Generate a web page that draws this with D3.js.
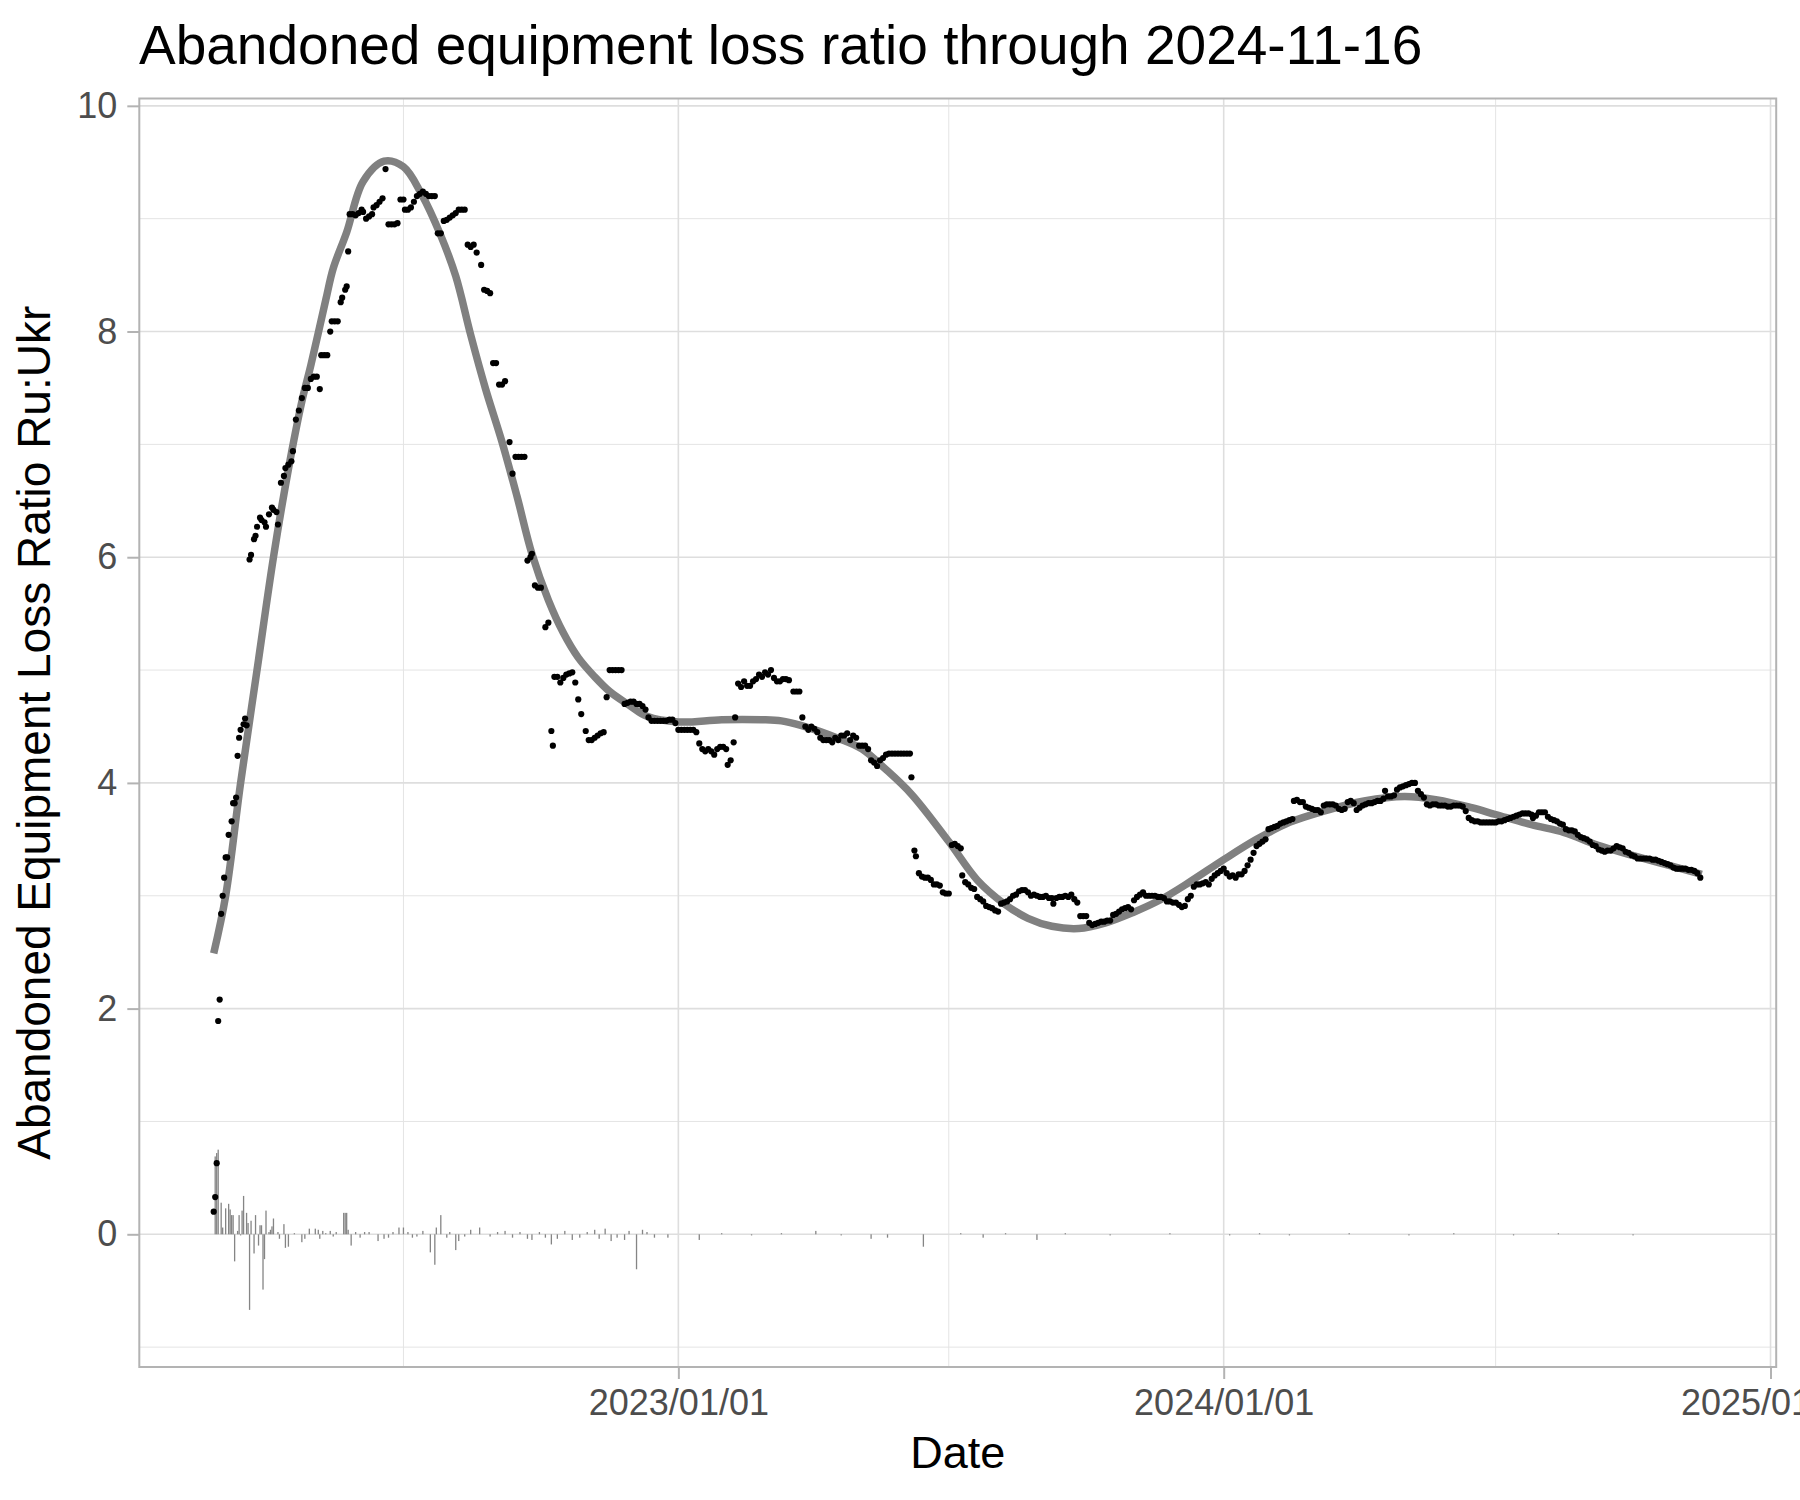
<!DOCTYPE html>
<html>
<head>
<meta charset="utf-8">
<script src="https://cdn.jsdelivr.net/npm/d3@7"></script>
<style>
body { margin: 0; background: #fff; }
text { font-family: "Liberation Sans", Arial, Helvetica, sans-serif; }
</style>
</head>
<body>
<svg id="svg1" width="1800" height="1500"></svg>
<script>
var titleText = "Abandoned equipment loss ratio through 2024-11-16";
var xTitle = "Date";
var yTitle = "Abandoned Equipment Loss Ratio Ru:Ukr";

var firstDay = "2022-02-24";
var lastDay = "2024-11-16";

// ratio Ru:Ukr, [days after firstDay, value]
var ratioPoints = [
 [0,0.20],[1,0.33],[2,0.63],[3,1.89],[4,2.08],[5,2.84],[6,3.00],[7,3.16],[8,3.34],[9,3.34],[10,3.54],[12,3.66],
 [13,3.82],[14,3.82],[15,3.87],[16,4.24],[17,4.40],[18,4.47],[20,4.52],[21,4.57],[22,4.51],[24,5.98],[25,6.02],
 [27,6.16],[28,6.19],[29,6.27],[31,6.35],[32,6.33],[34,6.31],[35,6.27],[37,6.38],[39,6.44],[40,6.42],[42,6.40],
 [43,6.29],[45,6.66],[47,6.72],[48,6.79],[50,6.82],[52,6.85],[53,6.94],[55,7.22],[57,7.30],[59,7.41],[61,7.50],
 [63,7.50],[65,7.58],[67,7.60],[69,7.60],[71,7.49],[72,7.79],[74,7.79],[76,7.79],[78,8.00],[79,8.09],[81,8.09],
 [83,8.09],[85,8.26],[86,8.30],[88,8.37],[89,8.40],[90,8.71],[91,9.04],[93,9.04],[95,9.03],[97,9.05],[99,9.08],
 [100,9.06],[102,9.00],[104,9.02],[106,9.04],[107,9.10],[109,9.12],[111,9.15],[113,9.18],[115,9.44],[117,8.95],
 [119,8.95],[121,8.95],[123,8.96],[125,9.17],[127,9.17],[128,9.08],[130,9.08],[132,9.10],[134,9.15],[136,9.20],
 [138,9.22],[140,9.24],[142,9.22],[144,9.20],[146,9.20],[148,9.20],[150,8.87],[152,8.87],[154,8.98],[156,8.99],
 [158,9.01],[160,9.03],[162,9.05],[164,9.08],[166,9.08],[168,9.08],[170,8.77],[172,8.75],[174,8.77],[176,8.70],
 [179,8.59],[181,8.37],[183,8.36],[185,8.34],[187,7.72],[189,7.72],[191,7.53],[193,7.53],[195,7.56],[198,7.02],
 [200,6.74],[202,6.89],[204,6.89],[206,6.89],[208,6.89],[210,5.97],[212,6.00],[213,6.03],[215,5.75],[217,5.73],
 [219,5.73],[222,5.38],[224,5.42],[226,4.46],[227,4.33],[228,4.94],[230,4.94],[232,4.89],[234,4.93],[236,4.96],
 [238,4.97],[240,4.98],[242,4.89],[244,4.74],[246,4.61],[249,4.46],[251,4.38],[253,4.38],[255,4.40],[257,4.42],
 [259,4.44],[261,4.45],[263,4.76],[265,5.00],[267,5.00],[269,5.00],[271,5.00],[273,5.00],[275,4.70],[277,4.71],
 [279,4.72],[281,4.72],[283,4.70],[285,4.70],[287,4.68],[289,4.65],[291,4.58],[293,4.55],[295,4.55],[297,4.55],
 [299,4.55],[301,4.55],[303,4.55],[305,4.56],[307,4.56],[309,4.53],[311,4.47],[313,4.47],[315,4.47],[317,4.47],
 [319,4.47],[321,4.47],[323,4.45],[325,4.35],[327,4.30],[329,4.28],[331,4.30],[333,4.28],[335,4.25],[337,4.30],
 [339,4.32],[341,4.32],[343,4.30],[344,4.16],[346,4.20],[348,4.36],[349,4.58],[351,4.88],[353,4.85],[355,4.90],
 [357,4.86],[359,4.86],[361,4.90],[363,4.92],[365,4.96],[367,4.94],[369,4.98],[371,4.96],[373,5.00],[375,4.93],
 [377,4.90],[379,4.90],[381,4.92],[383,4.92],[385,4.91],[388,4.81],[390,4.81],[392,4.81],[394,4.58],[396,4.50],
 [398,4.47],[400,4.50],[402,4.48],[404,4.45],[406,4.40],[408,4.38],[410,4.38],[412,4.38],[414,4.36],[416,4.40],
 [418,4.38],[420,4.42],[422,4.42],[424,4.44],[426,4.38],[428,4.42],[430,4.40],[432,4.33],[434,4.33],[436,4.33],
 [438,4.30],[440,4.20],[442,4.18],[444,4.15],[446,4.20],[448,4.22],[450,4.25],[452,4.26],[454,4.26],[456,4.26],
 [458,4.26],[460,4.26],[462,4.26],[464,4.26],[466,4.26],[467,4.05],[469,3.40],[470,3.35],[472,3.20],[474,3.17],
 [476,3.16],[478,3.16],[480,3.14],[482,3.10],[484,3.10],[486,3.09],[488,3.03],[490,3.02],[492,3.02],[494,3.45],
 [496,3.46],[498,3.44],[500,3.42],[501,3.18],[503,3.12],[505,3.10],[507,3.07],[509,3.06],[511,2.99],[513,2.97],
 [515,2.95],[517,2.91],[519,2.90],[521,2.89],[523,2.87],[525,2.86],[527,2.93],[529,2.94],[531,2.95],[533,2.97],
 [535,3.00],[537,3.01],[539,3.04],[541,3.05],[543,3.05],[545,3.03],[547,3.00],[549,3.01],[551,3.00],[553,2.99],
 [555,2.99],[557,3.00],[559,2.98],[561,2.98],[562,2.93],[564,2.98],[566,2.99],[568,2.99],[570,3.00],[572,2.99],
 [574,3.01],[576,2.97],[578,2.94],[580,2.82],[582,2.82],[584,2.82],[586,2.76],[588,2.74],[590,2.75],[592,2.76],
 [594,2.77],[596,2.77],[598,2.78],[600,2.78],[602,2.83],[604,2.84],[606,2.86],[608,2.88],[610,2.89],[612,2.90],
 [614,2.88],[616,2.96],[618,2.99],[620,3.01],[622,3.03],[624,3.00],[626,3.00],[628,3.00],[630,3.00],[632,2.99],
 [634,2.99],[636,2.98],[638,2.95],[640,2.95],[642,2.94],[644,2.94],[646,2.92],[648,2.90],[650,2.91],[652,2.97],
 [654,3.00],[656,3.08],[658,3.10],[660,3.10],[662,3.11],[664,3.12],[666,3.10],[668,3.15],[670,3.18],[672,3.20],
 [674,3.22],[676,3.24],[678,3.20],[680,3.17],[682,3.18],[684,3.16],[686,3.19],[688,3.19],[690,3.22],[692,3.27],
 [694,3.32],[696,3.38],[698,3.44],[700,3.46],[702,3.48],[704,3.50],[706,3.59],[708,3.60],[710,3.61],[712,3.62],
 [714,3.64],[716,3.65],[718,3.66],[720,3.67],[722,3.68],[723,3.84],[725,3.85],[727,3.83],[729,3.83],[731,3.79],
 [733,3.78],[735,3.77],[737,3.76],[739,3.76],[741,3.74],[743,3.80],[745,3.81],[747,3.81],[749,3.81],[751,3.80],
 [753,3.77],[755,3.76],[757,3.77],[759,3.83],[761,3.84],[763,3.82],[765,3.76],[767,3.78],[769,3.80],[771,3.81],
 [773,3.82],[775,3.82],[777,3.83],[779,3.84],[781,3.84],[783,3.86],[784,3.93],[786,3.88],[788,3.88],[790,3.89],
 [792,3.94],[794,3.96],[796,3.97],[798,3.98],[800,3.99],[802,4.00],[804,4.00],[806,3.93],[808,3.90],[810,3.87],
 [812,3.81],[814,3.80],[816,3.81],[818,3.81],[820,3.80],[822,3.80],[824,3.80],[826,3.79],[828,3.79],[830,3.80],
 [832,3.80],[834,3.80],[836,3.79],[838,3.75],[840,3.69],[842,3.67],[844,3.66],[846,3.66],[848,3.65],[850,3.65],
 [852,3.65],[854,3.65],[856,3.65],[858,3.65],[860,3.66],[862,3.66],[864,3.67],[866,3.68],[868,3.69],[870,3.70],
 [872,3.71],[874,3.72],[876,3.73],[878,3.73],[880,3.73],[882,3.72],[883,3.69],[885,3.71],[887,3.74],[889,3.74],
 [891,3.74],[893,3.70],[895,3.68],[897,3.67],[899,3.66],[901,3.64],[903,3.63],[905,3.59],[907,3.58],[909,3.58],
 [911,3.57],[913,3.54],[915,3.52],[917,3.51],[919,3.50],[921,3.48],[923,3.45],[925,3.44],[927,3.41],[929,3.40],
 [931,3.39],[933,3.40],[935,3.40],[937,3.42],[939,3.44],[941,3.43],[943,3.42],[945,3.39],[947,3.38],[949,3.36],
 [951,3.35],[953,3.33],[955,3.33],[957,3.33],[959,3.33],[961,3.33],[963,3.32],[965,3.32],[967,3.31],[969,3.30],
 [971,3.29],[973,3.28],[975,3.27],[977,3.25],[979,3.24],[981,3.24],[983,3.24],[985,3.24],[987,3.23],[989,3.23],
 [991,3.22],[993,3.20],[995,3.16]
];

// fitted trend, [days after firstDay, value]
var smoothPoints = [
 [0,2.49],[8,3.00],[18,4.00],[29,5.00],[40,6.00],[50,6.78],[59,7.38],[65,7.70],[75,8.28],[80,8.56],[89,8.88],
 [100,9.33],[114,9.51],[127,9.46],[139,9.22],[152,8.85],[162,8.49],[172,7.97],[182,7.49],[193,7.02],[203,6.54],
 [213,6.03],[224,5.62],[234,5.33],[244,5.11],[255,4.94],[265,4.81],[278,4.69],[290,4.59],[311,4.54],[340,4.56],
 [367,4.56],[380,4.55],[393,4.51],[419,4.39],[434,4.30],[449,4.13],[467,3.90],[492,3.48],[511,3.14],[529,2.93],
 [545,2.80],[561,2.73],[579,2.71],[597,2.76],[615,2.85],[633,2.96],[653,3.12],[676,3.32],[698,3.50],[720,3.65],
 [743,3.75],[770,3.84],[797,3.88],[819,3.85],[842,3.78],[858,3.72],[882,3.63],[904,3.56],[926,3.45],[949,3.36],
 [971,3.28],[996,3.19]
];

// daily change, [days after firstDay, value]
var changeBars = [
 [1,0.69],[2,0.72],[3,0.75],[5,0.28],[6,0.06],[8,0.23],[10,0.27],[11,0.22],[12,0.17],[13,0.17],[14,-0.24],
 [16,0.03],[17,0.17],[18,-0.01],[19,0.21],[20,0.34],[22,0.19],[23,0.10],[24,-0.67],[25,0.12],[27,-0.17],
 [28,0.17],[30,-0.10],[31,0.08],[32,0.08],[33,-0.49],[34,-0.22],[35,0.21],[37,0.02],[38,0.04],[39,0.07],
 [40,0.14],[43,0.02],[44,-0.04],[47,0.09],[48,-0.12],[50,-0.11],[54,0.01],[59,-0.07],[61,-0.04],[64,0.05],
 [68,0.05],[70,0.04],[71,-0.04],[73,0.03],[75,0.01],[78,0.03],[80,-0.02],[82,0.02],[87,0.19],[88,0.19],
 [89,0.19],[90,0.04],[92,-0.10],[95,0.02],[98,-0.03],[101,0.02],[104,0.02],[110,-0.06],[114,-0.04],[117,-0.03],
 [120,0.02],[124,0.06],[127,0.06],[130,0.02],[133,-0.03],[136,-0.02],[140,0.03],[145,-0.16],[148,-0.27],
 [149,0.06],[152,0.17],[156,-0.03],[158,0.02],[162,-0.14],[164,-0.06],[168,-0.02],[172,0.04],[178,0.06],
 [185,-0.02],[190,0.02],[195,0.03],[200,-0.03],[205,0.02],[210,-0.04],[213,-0.05],[218,0.02],[222,-0.03],
 [226,-0.09],[230,-0.04],[235,0.03],[240,-0.05],[245,-0.03],[250,0.02],[255,0.04],[258,-0.04],[262,0.05],
 [266,-0.06],[270,-0.03],[275,-0.05],[278,0.03],[283,-0.31],[287,0.04],[290,0.02],[295,-0.03],[304,-0.03],
 [325,-0.05],[340,0.01],[360,-0.01],[380,0.01],[403,0.03],[420,-0.01],[440,-0.04],[451,-0.03],[475,-0.11],
 [500,0.01],[515,-0.03],[530,0.01],[551,-0.05],[570,0.01],[600,-0.01],[640,0.01],[680,-0.01],[700,0.01],
 [720,-0.01],[760,0.01],[800,-0.01],[830,0.01],[870,-0.01],[900,0.01],[950,-0.01]
];

var yMajor = [0, 2, 4, 6, 8, 10];
var yMinor = [-1, 1, 3, 5, 7, 9];
var xMajor = ["2023-01-01", "2024-01-01", "2025-01-01"];
var xMinor = ["2022-07-01", "2023-07-01", "2024-07-01"];
var yLimits = [-1.176, 10.065];

var width = 1800, height = 1500;
var margin = {top: 98.5, right: 23.8, bottom: 133, left: 139.3};

var parse = d3.utcParse("%Y-%m-%d");
var t0 = parse(firstDay), t1 = parse(lastDay);
var span = t1 - t0;
function dayToDate(d) { return new Date(+t0 + d * 86400000); }

var x = d3.scaleUtc()
    .domain([new Date(+t0 - 0.05 * span), new Date(+t1 + 0.05 * span)])
    .range([margin.left, width - margin.right]);
var y = d3.scaleLinear()
    .domain(yLimits)
    .range([height - margin.bottom, margin.top]);

var svg = d3.select('svg');
svg.append('rect').attr('width', width).attr('height', height).attr('fill', '#fff');

// grid
var grid = svg.append('g');
grid.selectAll('.ymin').data(yMinor).enter().append('line')
    .attr('x1', margin.left).attr('x2', width - margin.right)
    .attr('y1', function(d) { return y(d); }).attr('y2', function(d) { return y(d); })
    .attr('stroke', '#e4e4e4').attr('stroke-width', 1);
grid.selectAll('.xmin').data(xMinor).enter().append('line')
    .attr('y1', margin.top).attr('y2', height - margin.bottom)
    .attr('x1', function(d) { return x(parse(d)); }).attr('x2', function(d) { return x(parse(d)); })
    .attr('stroke', '#e4e4e4').attr('stroke-width', 1);
grid.selectAll('.ymaj').data(yMajor).enter().append('line')
    .attr('x1', margin.left).attr('x2', width - margin.right)
    .attr('y1', function(d) { return y(d); }).attr('y2', function(d) { return y(d); })
    .attr('stroke', '#dedede').attr('stroke-width', 1.6);
grid.selectAll('.xmaj').data(xMajor).enter().append('line')
    .attr('y1', margin.top).attr('y2', height - margin.bottom)
    .attr('x1', function(d) { return x(parse(d)); }).attr('x2', function(d) { return x(parse(d)); })
    .attr('stroke', '#dedede').attr('stroke-width', 1.6);

// daily change bars
svg.append('g').selectAll('rect').data(changeBars).enter().append('rect')
    .attr('x', function(d) { return x(dayToDate(d[0])) - 0.65; })
    .attr('width', 1.3)
    .attr('y', function(d) { return Math.min(y(d[1]), y(0)); })
    .attr('height', function(d) { return Math.abs(y(d[1]) - y(0)); })
    .attr('fill', '#858585');

// trend line
var line = d3.line()
    .x(function(d) { return x(dayToDate(d[0])); })
    .y(function(d) { return y(d[1]); })
    .curve(d3.curveCatmullRom);
svg.append('path').datum(smoothPoints)
    .attr('d', line)
    .attr('fill', 'none')
    .attr('stroke', '#808080')
    .attr('stroke-width', 7.5)
    .attr('stroke-linejoin', 'round');

// points
svg.append('g').selectAll('circle').data(ratioPoints).enter().append('circle')
    .attr('cx', function(d) { return x(dayToDate(d[0])); })
    .attr('cy', function(d) { return y(d[1]); })
    .attr('r', 3.1)
    .attr('fill', '#000');

// panel border
svg.append('rect')
    .attr('x', margin.left).attr('y', margin.top)
    .attr('width', width - margin.left - margin.right)
    .attr('height', height - margin.top - margin.bottom)
    .attr('fill', 'none').attr('stroke', '#b3b3b3').attr('stroke-width', 2);

// axes
var xAxis = svg.append('g')
    .attr('transform', 'translate(0,' + (height - margin.bottom) + ')')
    .call(d3.axisBottom(x).tickValues(xMajor.map(parse)).tickFormat(d3.utcFormat('%Y/%m/%d')).tickSize(12).tickPadding(10));
var yAxis = svg.append('g')
    .attr('transform', 'translate(' + margin.left + ',0)')
    .call(d3.axisLeft(y).tickValues(yMajor).tickFormat(d3.format('d')).tickSize(12).tickPadding(10));
[xAxis, yAxis].forEach(function(a) {
    a.select('.domain').remove();
    a.selectAll('line').attr('stroke', '#b3b3b3').attr('stroke-width', 2);
    a.selectAll('text').attr('fill', '#4d4d4d').style('font-size', '36px')
        .style('font-family', '"Liberation Sans", Arial, Helvetica, sans-serif');
});

// titles
svg.append('text').attr('x', 139).attr('y', 64).text(titleText)
    .style('font-size', '55px').attr('fill', '#000');
svg.append('text').attr('x', (margin.left + width - margin.right) / 2).attr('y', 1468)
    .attr('text-anchor', 'middle').text(xTitle).style('font-size', '45px').attr('fill', '#000');
svg.append('text')
    .attr('transform', 'translate(50,' + ((margin.top + height - margin.bottom) / 2) + ') rotate(-90)')
    .attr('text-anchor', 'middle').text(yTitle).style('font-size', '46px').attr('fill', '#000');
</script>
</body>
</html>
